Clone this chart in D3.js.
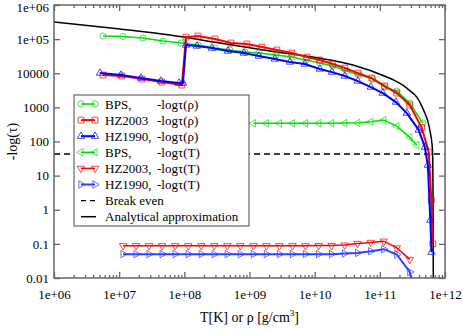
<!DOCTYPE html>
<html>
<head>
<meta charset="utf-8">
<script src="https://cdn.jsdelivr.net/npm/d3@7"></script>
<style>
  body { margin: 0; background: #fff; }
  text { font-family: "Liberation Serif", "Times New Roman", serif; fill: #000; }
</style>
</head>
<body>
<svg id="chart"></svg>
<script>
// axis ticks
const xTicks = [1e6, 1e7, 1e8, 1e9, 1e10, 1e11, 1e12];
const xTickLabels = ["1e+06", "1e+07", "1e+08", "1e+09", "1e+10", "1e+11", "1e+12"];
const yTicks = [0.01, 0.1, 1, 10, 100, 1000, 10000, 1e5, 1e6];
const yTickLabels = ["0.01", "0.1", "1", "10", "100", "1000", "10000", "1e+05", "1e+06"];

// -log tau(rho) curves
const bpsRhoX = [5.65e6, 1.14e7, 2.32e7, 4.7e7, 8.87e7, 1.62e8, 2.95e8, 5.0e8, 8.5e8, 1.39e9, 2.54e9, 4.47e9, 7.33e9, 1.2e10, 1.9e10, 3.12e10, 4.93e10, 7.81e10, 1.19e11, 1.82e11, 2.88e11, 4.57e11];
const bpsRhoY = [1.23e5, 1.19e5, 1.08e5, 8.8e4, 7.69e4, 6.71e4, 5.48e4, 4.79e4, 4.19e4, 3.91e4, 3.42e4, 2.99e4, 2.44e4, 1.99e4, 1.63e4, 1.16e4, 8.86e3, 6.76e3, 3.94e3, 3.0e3, 1.34e3, 347];

const hz03RhoX = [5.65e6, 1.1e7, 2.24e7, 4.53e7, 9.18e7, 1.06e8, 1.62e8, 2.95e8, 5.19e8, 9.12e8, 1.55e9, 2.63e9, 4.47e9, 7.59e9, 1.2e10, 1.9e10, 2.9e10, 4.6e10, 7.54e10, 1.19e11, 1.82e11, 2.88e11, 4.37e11, 5.64e11, 6.17e11, 6.5e11];
const hz03RhoY = [8.86e3, 8.28e3, 6.76e3, 5.52e3, 4.5e3, 1.15e5, 1.23e5, 1.01e5, 7.69e4, 7.18e4, 5.86e4, 4.79e4, 3.91e4, 2.99e4, 2.44e4, 1.86e4, 1.42e4, 1.01e4, 7.23e3, 4.22e3, 2.62e3, 1.17e3, 259, 48.9, 1.91, 0.1];

const hz90RhoX = [5.08e6, 1.07e7, 2.16e7, 4.37e7, 8.26e7, 9.53e7, 1.06e8, 1.56e8, 2.65e8, 4.67e8, 8.2e8, 1.39e9, 2.45e9, 4.17e9, 7.08e9, 1.2e10, 1.84e10, 2.9e10, 4.6e10, 7.28e10, 1.11e11, 1.76e11, 2.59e11, 3.96e11, 4.9e11, 5.45e11, 5.96e11, 6.21e11];
const hz90RhoY = [1.01e4, 8.86e3, 7.23e3, 5.9e3, 5.16e3, 5.16e3, 6.71e4, 6.28e4, 5.48e4, 4.48e4, 3.91e4, 3.19e4, 2.61e4, 2.13e4, 1.86e4, 1.33e4, 1.08e4, 8.28e3, 5.9e3, 3.94e3, 2.62e3, 1.43e3, 681, 216, 68.6, 20.3, 0.495, 0.057];

// -log tau(T) curves
const bpsTX = [1.15e9, 1.82e9, 2.88e9, 4.57e9, 7.24e9, 1.15e10, 1.82e10, 2.88e10, 4.57e10, 7.24e10, 1.15e11, 1.82e11, 2.88e11, 3.7e11];
const bpsTY = [340, 340, 340, 342, 342, 344, 345, 347, 353, 378, 425, 283, 132, 78];

const hz03TX = [1.15e7, 1.82e7, 2.88e7, 4.57e7, 7.24e7, 1.15e8, 1.82e8, 2.88e8, 4.57e8, 7.24e8, 1.15e9, 1.82e9, 2.88e9, 4.57e9, 7.24e9, 1.15e10, 1.82e10, 2.88e10, 4.57e10, 7.24e10, 1.15e11, 1.82e11, 2.88e11];
const hz03TY = [0.088, 0.088, 0.088, 0.088, 0.088, 0.088, 0.088, 0.088, 0.088, 0.088, 0.088, 0.088, 0.088, 0.088, 0.088, 0.089, 0.089, 0.092, 0.103, 0.11, 0.12, 0.076, 0.035];

const hz90TX = [1.15e7, 1.82e7, 2.88e7, 4.57e7, 7.24e7, 1.15e8, 1.82e8, 2.88e8, 4.57e8, 7.24e8, 1.15e9, 1.82e9, 2.88e9, 4.57e9, 7.24e9, 1.15e10, 1.82e10, 2.88e10, 4.57e10, 7.24e10, 1.15e11, 1.82e11, 2.88e11, 3.2e11];
const hz90TY = [0.05, 0.05, 0.05, 0.05, 0.05, 0.05, 0.05, 0.05, 0.05, 0.05, 0.05, 0.05, 0.05, 0.05, 0.05, 0.05, 0.05, 0.0523, 0.0544, 0.061, 0.07, 0.0489, 0.0151, 0.005];

// analytical approximation and break even level
const analyticX = [1e6, 1.03e7, 6.0e7, 3.5e8, 2.06e9, 1.2e10, 3.86e10, 1.28e11, 1.70e11, 2.25e11, 2.88e11, 3.69e11, 4.26e11, 4.9e11, 5.45e11, 5.85e11, 6.43e11, 6.56e11, 6.64e11];
const analyticY = [3.17e5, 1.98e5, 1.32e5, 7.69e4, 4.48e4, 2.75e4, 1.74e4, 7.75e3, 6.1e3, 4.5e3, 3.11e3, 2.0e3, 1.25e3, 681, 396, 216, 56, 1.9, 0.001];
const breakEven = 43;

const legendNames = ["BPS,", "HZ2003", "HZ1990,", "BPS,", "HZ2003,", "HZ1990,", "Break even", "Analytical approximation"];
const legendTaus = ["-log\u03c4(\u03c1)", "-log\u03c4(\u03c1)", "-log\u03c4(\u03c1)", "-log\u03c4(T)", "-log\u03c4(T)", "-log\u03c4(T)", "", ""];

const W = 463, H = 333;
const mLeft = 54, mRight = 445, mTop = 5, mBottom = 278;

const svg = d3.select('#chart').attr('width', W).attr('height', H);

const x = d3.scaleLog().domain([1e6, 1e12]).range([mLeft, mRight]);
const y = d3.scaleLog().domain([0.01, 1e6]).range([mBottom, mTop]);

const zip = (a, b) => a.map((v, i) => [v, b[i]]);

const series = [
  { data: zip(bpsRhoX, bpsRhoY), color: '#00e000', width: 1.5, sym: 'circle' },
  { data: zip(hz03RhoX, hz03RhoY), color: '#ff0000', width: 2, sym: 'square' },
  { data: zip(hz90RhoX, hz90RhoY), color: '#0000ff', width: 2, sym: 'up' },
  { data: zip(bpsTX, bpsTY), color: '#00e000', width: 1.5, sym: 'left' },
  { data: zip(hz03TX, hz03TY), color: '#ff0000', width: 1.5, sym: 'down' },
  { data: zip(hz90TX, hz90TY), color: '#3040ff', width: 2, sym: 'right' }
];

svg.append('defs').append('clipPath').attr('id', 'plotclip')
  .append('rect').attr('x', mLeft).attr('y', mTop).attr('width', mRight - mLeft).attr('height', mBottom - mTop);

// minor tick positions
const minors = [];
for (let e = 6; e < 12; e++) for (let k = 2; k < 10; k++) minors.push(k * Math.pow(10, e));

function styleAxis(g) {
  g.select('.domain').remove();
  g.selectAll('.tick line').attr('stroke', '#666').attr('stroke-width', 1.3);
  g.selectAll('text').style('font-family', '"Liberation Serif", serif').style('font-size', '13px').attr('fill', '#000');
}

// bottom
svg.append('g').attr('transform', `translate(0,${mBottom})`)
  .call(d3.axisBottom(x).tickValues(xTicks).tickFormat((d, i) => xTickLabels[i]).tickSize(-6).tickPadding(12))
  .call(styleAxis);
svg.append('g').attr('transform', `translate(0,${mBottom})`)
  .call(d3.axisBottom(x).tickValues(minors).tickFormat('').tickSize(-3))
  .call(styleAxis);
// top
svg.append('g').attr('transform', `translate(0,${mTop})`)
  .call(d3.axisTop(x).tickValues(xTicks).tickFormat('').tickSize(-6))
  .call(styleAxis);
svg.append('g').attr('transform', `translate(0,${mTop})`)
  .call(d3.axisTop(x).tickValues(minors).tickFormat('').tickSize(-3))
  .call(styleAxis);
// left
const yAxisG = svg.append('g').attr('transform', `translate(${mLeft},0)`)
  .call(d3.axisLeft(y).tickValues(yTicks).tickFormat((d, i) => yTickLabels[i]).tickSize(-6).tickPadding(5))
  .call(styleAxis);
// keep the topmost label inside the page
yAxisG.selectAll('.tick text').filter(d => d === 1e6).attr('dy', '0.5em');
// right
svg.append('g').attr('transform', `translate(${mRight},0)`)
  .call(d3.axisRight(y).tickValues(yTicks).tickFormat('').tickSize(-6))
  .call(styleAxis);

const plot = svg.append('g').attr('clip-path', 'url(#plotclip)');

const line = d3.line().x(d => x(d[0])).y(d => y(d[1]));

// break even
plot.append('path')
  .attr('d', line([[1e6, breakEven], [1e12, breakEven]]))
  .attr('fill', 'none').attr('stroke', '#000').attr('stroke-width', 1.3)
  .attr('stroke-dasharray', '6,4');

// analytical
plot.append('path')
  .attr('d', d3.line().x(d => x(d[0])).y(d => y(d[1])).curve(d3.curveMonotoneX)(zip(analyticX, analyticY)))
  .attr('fill', 'none').attr('stroke', '#000').attr('stroke-width', 1.5);

function symbolPath(kind) {
  if (kind === 'circle') return d3.symbol(d3.symbolCircle, 30)();
  if (kind === 'square') return d3.symbol(d3.symbolSquare, 34)();
  return d3.symbol(d3.symbolTriangle, 24)();
}
function symbolRot(kind) {
  return { up: 0, down: 180, left: -90, right: 90 }[kind] || 0;
}

function drawMarker(g, kind, px, py, color) {
  g.append('path')
    .attr('d', symbolPath(kind))
    .attr('transform', `translate(${px},${py}) rotate(${symbolRot(kind)})`)
    .attr('fill', 'none').attr('stroke', color).attr('stroke-width', 0.9)
    .attr('stroke-opacity', 0.8);
}

series.forEach(s => {
  plot.append('path').attr('d', line(s.data))
    .attr('fill', 'none').attr('stroke', s.color).attr('stroke-width', s.width);
  s.data.forEach(d => drawMarker(plot, s.sym, x(d[0]), y(d[1]), s.color));
});

// frame
svg.append('rect').attr('x', mLeft).attr('y', mTop).attr('width', mRight - mLeft).attr('height', mBottom - mTop)
  .attr('fill', 'none').attr('stroke', '#666').attr('stroke-width', 1.5);

// legend
const lg = svg.append('g');
lg.append('rect').attr('x', 74).attr('y', 95).attr('width', 175).attr('height', 131)
  .attr('fill', '#fff').attr('stroke', '#666').attr('stroke-width', 1.2);

legendNames.forEach((name, i) => {
  const cy = 104 + i * 16.1;
  if (i < 6) {
    const s = series[i];
    lg.append('line').attr('x1', 81).attr('x2', 95).attr('y1', cy).attr('y2', cy)
      .attr('stroke', s.color).attr('stroke-width', s.width);
    drawMarker(lg, s.sym, 81, cy, s.color);
    drawMarker(lg, s.sym, 95, cy, s.color);
  } else if (i === 6) {
    lg.append('line').attr('x1', 81).attr('x2', 96).attr('y1', cy).attr('y2', cy)
      .attr('stroke', '#000').attr('stroke-width', 1.3).attr('stroke-dasharray', '5,4');
  } else {
    lg.append('line').attr('x1', 81).attr('x2', 96).attr('y1', cy).attr('y2', cy)
      .attr('stroke', '#000').attr('stroke-width', 1.5);
  }
  lg.append('text').attr('x', 105).attr('y', cy + 4.5).style('font-size', '13px').text(name);
  if (legendTaus[i]) {
    lg.append('text').attr('x', 157).attr('y', cy + 4.5).style('font-size', '13px').text(legendTaus[i]);
  }
});

// axis titles
const xl = svg.append('text').attr('x', (mLeft + mRight) / 2).attr('y', 322)
  .attr('text-anchor', 'middle').style('font-size', '14px');
xl.append('tspan').text('T[K] or \u03c1 [g/cm');
xl.append('tspan').attr('dy', -6).style('font-size', '9px').text('3');
xl.append('tspan').attr('dy', 6).text(']');

svg.append('text').attr('transform', `translate(17,${(mTop + mBottom) / 2}) rotate(-90)`)
  .attr('text-anchor', 'middle').style('font-size', '14px').text('-log(\u03c4)');
</script>
</body>
</html>
